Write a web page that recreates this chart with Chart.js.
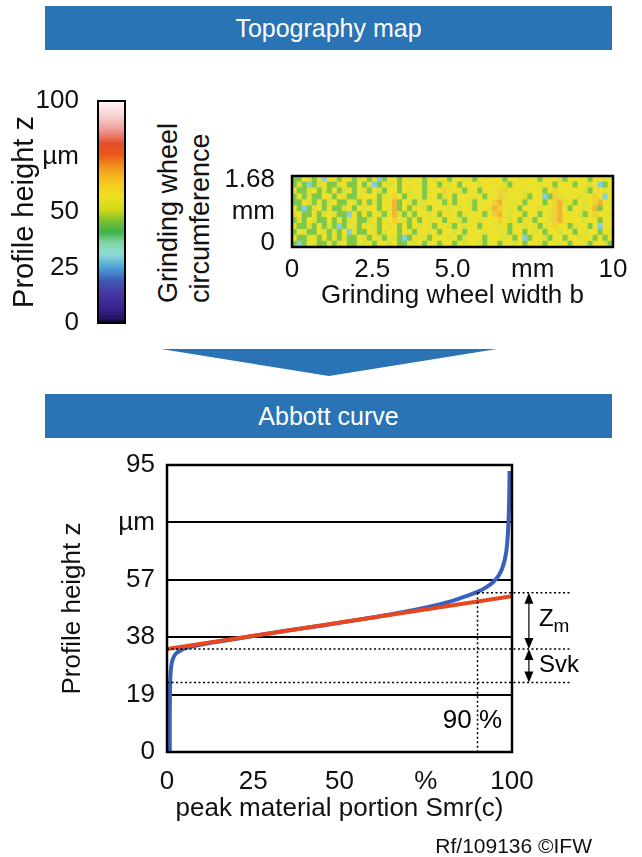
<!DOCTYPE html>
<html lang="en">
<head>
<meta charset="UTF-8">
<title>Topography map and Abbott curve</title>
<style>
    * { margin: 0; padding: 0; box-sizing: border-box; }
    body {
        width: 642px; height: 857px; position: relative; overflow: hidden;
        background: #fff; color: #111;
        font-family: 'Liberation Sans', Arial, sans-serif;
    }
    .banner {
        position: absolute; left: 45px; width: 567px; height: 44px;
        background: #2a73b4; color: #fff; font-size: 25px;
        line-height: 44px; text-align: center;
    }
    .chevron {
        position: absolute; left: 161px; top: 349px; width: 336px; height: 27px;
        background: #2a73b4; clip-path: polygon(0 0, 100% 0, 50% 100%);
    }
    .box { position: absolute; }
    .vtext {
        position: absolute; left: 0; top: 0; transform-origin: 0 0;
        transform: translate(152px, 303px) rotate(-90deg);
        font-size: 27px; line-height: 32px; white-space: nowrap;
    }
    .credit { position: absolute; right: 50px; top: 834px; font-size: 21px; }
</style>
</head>
<body>
    <div class="banner" style="top:6px">Topography map</div>

    <div class="box" style="left:0;top:80px"><canvas id="bar-scale" width="140" height="260"></canvas></div>
    <div class="vtext">Grinding wheel<br>circumference</div>
    <div class="box" style="left:210px;top:160px"><canvas id="topo-map" width="432" height="160"></canvas></div>

    <div class="chevron"></div>
    <div class="banner" style="top:394px">Abbott curve</div>

    <div class="box" style="left:0;top:445px"><canvas id="abbott" width="642" height="412"></canvas></div>
    <div class="credit">Rf/109136 ©IFW</div>

    <script src="https://cdn.jsdelivr.net/npm/chart.js"></script>
    <script>
        // ---- data ----
        // colour scale (profile height in µm)
        const scaleTicks = [0, 25, 50, 75, 100];
        const scaleLabels = ['0', '25', '50', 'µm', '100'];
        const colorStops = [
            [0, '#05030f'], [2, '#2a1262'], [6, '#3a1f8e'], [13, '#4637a2'],
            [19, '#3f58b8'], [25, '#4aa2d8'], [31, '#8fdad6'], [36, '#86d6a8'],
            [41, '#3eb34a'], [46, '#7cc030'], [51, '#cfd81a'], [57, '#eee11f'],
            [63, '#f6c81e'], [69, '#f5a01f'], [76, '#ea561a'], [81, '#e4502a'],
            [87, '#f09a98'], [93, '#f9cfd0'], [100, '#fff7f7']
        ];

        // topography map, 64 columns x 12 rows, top row first
        const mapXTicks = [0, 2.5, 5, 7.5, 10];
        const mapXLabels = ['0', '2.5', '5.0', 'mm', '10'];
        const mapYTicks = [0, 0.84, 1.68];
        const mapYLabels = ['0', 'mm', '1.68'];
        const mapRows = [
            'gg.,g.c. .g..g,.g .cg..g., ..g.,..g ..,.g... ..g..,.. .g...,g. ...g..,.',
            'g,gcg,.g g,.gg.g, cg.,.g.. .,g..g., .g...,.. ..,g.... .,..g... g..,.cg.',
            '.gg,.g,g .g,.g.,g .,g..g., ..g,..o. .,g..g.. .,o...,. ..g.o... ..,g..,.',
            'g.g,gg.. g.,gg,.. .g,.o.g. ,.g..g,. g...,.g. .o,...,g ..cgo,.. .,..o.c.',
            'gg.,g.g, .gg.,g.g ,g..Og., g.,...g. g..,g... oO..,.g. ..g.oO,. g.,.oO.,',
            '.gcg,.g. gg,.g.,. .g.,Og.g ..,g..., .,..g.., Oo.,.g.. .,..oO.g ..,.Og..',
            'o.gg.g,. ,ggc.g.g .,g.O,g. g..,.g.. .g,...g. oO.,..g. .g.,oO.. .,g.o..,',
            'g,g.,gg. g.g,.gg, .g..o.,g .g.,..g. .,g..,.. .o.,.g.. g..,oO.. ..,..g..',
            '.gg,g.g, gcg.,g.. ,g.,.g.g .,..g.., g.,..g.. .,.g..,. .g,.o..g ,..g.c..',
            'g.,gg.,g ,g.c,gg. .g,..g., g..,.g.. ,.g...,. ..,g..g. ,.g..,.. g.,..g.,',
            '.gg,.g.g .g,gg.,g .,g.,gcg ..,g..., .g,...g. ..,.g.cg ..,g..g. .,..g.g.',
            'gcg.,gg. g,.gg.,. g..,.gg. ,.g..g.. g.,..,g. .g..,.g. .,g..,.g ..,g..,g'
        ];
        const mapColors = {
            '.': '#ece22c', ',': '#dde035', 'g': '#80c84a', 'G': '#4db24c',
            'c': '#84cfdc', 'o': '#f0d034', 'O': '#f1b631'
        };

        // Abbott curve: material portion Smr (%) vs profile height z (µm)
        const curveSmr = [0.8, 0.8, 0.9, 1.1, 1.6, 2.6, 4.2, 6.5, 10, 17, 25, 35, 45, 55, 65, 72,
            78, 83, 87, 90, 92.5, 94.5, 96.2, 97.4, 98.3, 98.8, 99.1, 99.25, 99.3];
        const curveZ = [0, 12, 22, 27, 30.5, 32.6, 33.8, 34.7, 35.6, 36.9, 38.4, 40.2, 41.9, 43.7, 45.6, 47.1,
            48.6, 50.1, 51.7, 53.0, 54.5, 56.2, 58.5, 61.5, 66, 72, 80, 88, 93];
        const fitSmr = [0, 100];
        const fitZ = [34.1, 51.6];
        const abbottXTicks = [0, 25, 50, 75, 100];
        const abbottXLabels = ['0', '25', '50', '%', '100'];
        const abbottYTicks = [0, 19, 38, 57, 76, 95];
        const abbottYLabels = ['0', '19', '38', '57', 'µm', '95'];

        // parameter marks: Zm between levels 0 and 1, Svk between levels 1 and 2
        const levelZ = [52.7, 34.1, 23.0];
        const levelStart = [90, 0, 0];
        const levelEnd = 116.8;
        const ratioSmr = 90;
        const arrowSmr = 104.9;

        Chart.defaults.font.family = "'Liberation Sans', Arial, sans-serif";
        Chart.defaults.font.size = 26;
        Chart.defaults.color = '#111';
        Chart.defaults.animation = false;
        Chart.defaults.plugins.legend.display = false;
        Chart.defaults.plugins.tooltip.enabled = false;

        function frame(width) {
            return {
                id: 'frame',
                afterDatasetsDraw(chart) {
                    const a = chart.chartArea, ctx = chart.ctx;
                    ctx.save();
                    ctx.strokeStyle = '#000';
                    ctx.lineWidth = width;
                    ctx.strokeRect(a.left, a.top, a.right - a.left, a.bottom - a.top);
                    ctx.restore();
                }
            };
        }

        function fixedTicks(values) {
            return scale => { scale.ticks = values.map(v => ({ value: v })); };
        }

        // fixed axis size, no extra room for labels hanging past the plot
        function fixedSize(size) {
            return s => {
                if (s.isHorizontal()) s.height = size; else s.width = size;
                s.paddingTop = s.paddingBottom = s.paddingLeft = s.paddingRight = 0;
            };
        }

        // ---- colour scale ----
        new Chart(document.getElementById('bar-scale'), {
            type: 'bar',
            data: {
                labels: [''],
                datasets: [{
                    data: [100],
                    barPercentage: 1,
                    categoryPercentage: 1,
                    backgroundColor(c) {
                        const a = c.chart.chartArea;
                        if (!a) return '#fff';
                        const g = c.chart.ctx.createLinearGradient(0, a.bottom, 0, a.top);
                        colorStops.forEach(s => g.addColorStop(s[0] / 100, s[1]));
                        return g;
                    }
                }]
            },
            options: {
                responsive: false,
                layout: { padding: { top: 21, right: 15, bottom: 17, left: 0 } },
                scales: {
                    x: { display: false },
                    y: {
                        min: 0, max: 100,
                        afterFit: fixedSize(98),
                        afterBuildTicks: fixedTicks(scaleTicks),
                        grid: { display: false },
                        border: { display: false },
                        ticks: { padding: 11, autoSkip: false, callback: (v, i) => scaleLabels[i] },
                        title: {
                            display: true, text: 'Profile height z',
                            font: { size: 29 }, padding: { top: 8, bottom: 0 }
                        }
                    }
                }
            },
            plugins: [frame(2)]
        });

        // ---- topography map ----
        const cols = mapRows[0].replace(/ /g, '').length;
        new Chart(document.getElementById('topo-map'), {
            type: 'bar',
            data: {
                labels: Array.from({ length: cols }, (_, i) => String(i)),
                datasets: mapRows.slice().reverse().map(row => ({
                    data: row.replace(/ /g, '').split('').map(() => 1),
                    backgroundColor: row.replace(/ /g, '').split('').map(ch => mapColors[ch]),
                    borderWidth: 0,
                    barPercentage: 1,
                    categoryPercentage: 1,
                    xAxisID: 'xc',
                    yAxisID: 'yc'
                }))
            },
            options: {
                responsive: false,
                layout: { padding: { top: 16, right: 29, bottom: 9, left: 0 } },
                scales: {
                    xc: { display: false, stacked: true },
                    yc: { display: false, stacked: true, min: 0, max: mapRows.length },
                    x: {
                        type: 'linear', position: 'bottom', offset: false,
                        min: 0, max: 10,
                        afterFit: fixedSize(64),
                        afterBuildTicks: fixedTicks(mapXTicks),
                        grid: { display: false },
                        border: { display: false },
                        ticks: { padding: -1, maxRotation: 0, autoSkip: false, callback: (v, i) => mapXLabels[i] },
                        title: { display: true, text: 'Grinding wheel width b', padding: 0 }
                    },
                    y: {
                        // labels sit a little inside the frame, as in the original
                        type: 'linear', position: 'left', offset: false,
                        min: -0.1, max: 1.78,
                        afterFit: fixedSize(82),
                        afterBuildTicks: fixedTicks(mapYTicks),
                        grid: { display: false },
                        border: { display: false },
                        ticks: { padding: 9, autoSkip: false, callback: (v, i) => mapYLabels[i] }
                    }
                }
            },
            plugins: [frame(2.5)]
        });

        // ---- Abbott curve ----
        const abbottMarks = {
            id: 'abbottMarks',
            afterDatasetsDraw(chart) {
                const { ctx, scales: { x, y } } = chart;
                const xEnd = x.getPixelForValue(levelEnd);
                const xr = x.getPixelForValue(ratioSmr);
                const xa = x.getPixelForValue(arrowSmr);
                const ys = levelZ.map(v => y.getPixelForValue(v));
                ctx.save();
                // dotted guide lines
                ctx.strokeStyle = '#000';
                ctx.lineWidth = 1.5;
                ctx.setLineDash([2, 2.5]);
                ctx.beginPath();
                levelZ.forEach((v, i) => {
                    ctx.moveTo(x.getPixelForValue(levelStart[i]), ys[i]);
                    ctx.lineTo(xEnd, ys[i]);
                });
                ctx.moveTo(xr, ys[0]);
                ctx.lineTo(xr, y.getPixelForValue(0));
                ctx.stroke();
                ctx.setLineDash([]);
                // double arrows
                ctx.lineWidth = 1.2;
                ctx.fillStyle = '#000';
                const head = (yt, dir) => {
                    ctx.beginPath();
                    ctx.moveTo(xa, yt);
                    ctx.lineTo(xa - 4.5, yt + dir * 11);
                    ctx.lineTo(xa + 4.5, yt + dir * 11);
                    ctx.closePath();
                    ctx.fill();
                };
                for (let i = 0; i < 2; i++) {
                    ctx.beginPath();
                    ctx.moveTo(xa, ys[i] + 4);
                    ctx.lineTo(xa, ys[i + 1] - 4);
                    ctx.stroke();
                    head(ys[i], 1);
                    head(ys[i + 1], -1);
                }
                // labels
                ctx.textBaseline = 'middle';
                ctx.textAlign = 'left';
                const xl = xa + 10;
                const yZm = (ys[0] + ys[1]) / 2;
                ctx.font = "24px 'Liberation Sans', Arial, sans-serif";
                ctx.fillText('Z', xl, yZm - 2);
                const zw = ctx.measureText('Z').width;
                ctx.font = "19px 'Liberation Sans', Arial, sans-serif";
                ctx.fillText('m', xl + zw, yZm + 6);
                ctx.font = "24px 'Liberation Sans', Arial, sans-serif";
                ctx.fillText('Svk', xl, (ys[1] + ys[2]) / 2);
                ctx.font = "26px 'Liberation Sans', Arial, sans-serif";
                ctx.textAlign = 'center';
                ctx.fillText('90 %', xr - 5, y.getPixelForValue(10.3));
                ctx.restore();
            }
        };

        new Chart(document.getElementById('abbott'), {
            type: 'scatter',
            data: {
                datasets: [{
                    data: fitSmr.map((v, i) => ({ x: v, y: fitZ[i] })),
                    showLine: true,
                    borderColor: '#e8461e',
                    borderWidth: 4,
                    pointRadius: 0,
                    order: 0
                }, {
                    data: curveSmr.map((v, i) => ({ x: v, y: curveZ[i] })),
                    showLine: true,
                    borderColor: '#3a5fbd',
                    borderWidth: 4,
                    tension: 0.3,
                    pointRadius: 0,
                    order: 1
                }]
            },
            options: {
                responsive: false,
                layout: { padding: { top: 20, right: 130, bottom: 33, left: 0 } },
                scales: {
                    x: {
                        min: 0, max: 100,
                        afterFit: fixedSize(72),
                        afterBuildTicks: fixedTicks(abbottXTicks),
                        grid: { display: false },
                        border: { display: false },
                        ticks: { padding: 6, maxRotation: 0, autoSkip: false, callback: (v, i) => abbottXLabels[i] },
                        title: { display: true, text: 'peak material portion Smr(c)', padding: 0 }
                    },
                    y: {
                        min: 0, max: 95,
                        afterFit: fixedSize(167),
                        afterBuildTicks: fixedTicks(abbottYTicks),
                        grid: { color: '#000', lineWidth: 2, drawTicks: false },
                        border: { display: false },
                        ticks: { padding: 12, autoSkip: false, callback: (v, i) => abbottYLabels[i] },
                        title: { display: true, text: 'Profile height z', padding: { top: 57, bottom: 0 } }
                    }
                }
            },
            plugins: [frame(2.5), abbottMarks]
        });
    </script>
</body>
</html>
